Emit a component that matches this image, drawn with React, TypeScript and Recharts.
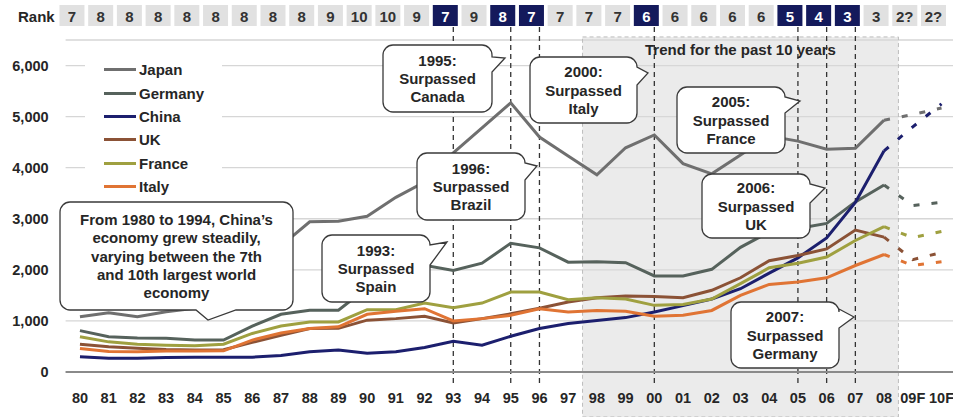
import React from 'react'
import {
  LineChart, Line, XAxis, YAxis, CartesianGrid,
  ReferenceArea, ReferenceLine, Legend,
} from 'recharts'

// categories (1980 – 2008, plus two forecast years)
const years = [
  '80', '81', '82', '83', '84', '85', '86', '87', '88', '89',
  '90', '91', '92', '93', '94', '95', '96', '97', '98', '99',
  '00', '01', '02', '03', '04', '05', '06', '07', '08', '09F', '10F',
]

// China's world rank for each year
const ranks = [
  '7', '8', '8', '8', '8', '8', '8', '8', '8', '9',
  '10', '10', '9', '7', '9', '8', '7', '7', '7', '7',
  '6', '6', '6', '6', '6', '5', '4', '3', '3', '2?', '2?',
]
// years where China overtook another economy
const milestoneYears = ['93', '95', '96', '00', '05', '06', '07']

// GDP, US$ billions, 1980 – 2008
const japan = [1080, 1160, 1080, 1180, 1250, 1360, 2030, 2470, 2940, 2950, 3050, 3420, 3720, 4290, 4780, 5270, 4600, 4230, 3860, 4390, 4640, 4080, 3880, 4250, 4620, 4520, 4360, 4380, 4930]
const germany = [810, 690, 665, 660, 625, 625, 900, 1130, 1210, 1210, 1650, 1880, 2090, 1990, 2130, 2520, 2430, 2150, 2160, 2140, 1880, 1880, 2010, 2440, 2740, 2810, 2910, 3330, 3660]
const china = [300, 270, 270, 285, 290, 290, 290, 325, 395, 430, 365, 395, 480, 600, 525, 700, 850, 950, 1010, 1065, 1175, 1300, 1430, 1630, 1935, 2235, 2625, 3320, 4330]
const uk = [545, 495, 465, 440, 430, 435, 580, 720, 850, 855, 1015, 1045, 1090, 960, 1045, 1140, 1250, 1370, 1455, 1490, 1480, 1455, 1600, 1845, 2180, 2280, 2410, 2780, 2640]
const france = [690, 590, 545, 525, 515, 545, 755, 900, 980, 980, 1220, 1220, 1350, 1260, 1350, 1565, 1565, 1415, 1455, 1430, 1305, 1320, 1430, 1730, 2040, 2130, 2250, 2575, 2845]
const italy = [460, 400, 395, 410, 410, 415, 625, 765, 850, 885, 1130, 1190, 1240, 1000, 1045, 1110, 1240, 1175, 1205, 1190, 1090, 1110, 1205, 1500, 1715, 1760, 1845, 2085, 2300]

// forecast: 08, 09F, 10F
const japanF = [4930, 5040, 5170]
const germanyF = [3660, 3260, 3320]
const chinaF = [4330, 4800, 5250]
const ukF = [2640, 2200, 2340]
const franceF = [2845, 2630, 2750]
const italyF = [2300, 2085, 2160]

const yTicks = [0, 1000, 2000, 3000, 4000, 5000, 6000]

const series = [
  { key: 'japan', name: 'Japan', color: '#6f6f6f', hist: japan, fc: japanF },
  { key: 'germany', name: 'Germany', color: '#56625c', hist: germany, fc: germanyF },
  { key: 'china', name: 'China', color: '#1c1f6e', hist: china, fc: chinaF },
  { key: 'uk', name: 'UK', color: '#8b5236', hist: uk, fc: ukF },
  { key: 'france', name: 'France', color: '#9fa040', hist: france, fc: franceF },
  { key: 'italy', name: 'Italy', color: '#e07434', hist: italy, fc: italyF },
]

const FORECAST_FROM = years.length - 3

const data = years.map((year, i) => {
  const row: Record<string, any> = { idx: i, year }
  series.forEach(s => {
    row[s.key] = i < s.hist.length ? s.hist[i] : null
    row[s.key + 'F'] = i >= FORECAST_FROM ? s.fc[i - FORECAST_FROM] : null
  })
  return row
})

const FONT = '"Liberation Sans", Arial, sans-serif'
const TEXT = '#262626'

// callout boxes (annotation layer, pixel layout)
const callouts = [
  { lines: ['1995:', 'Surpassed', 'Canada'], x: 383, y: 45, w: 109, h: 67, side: 'right', b1: 57, b2: 72, tx: 505, ty: 58 },
  { lines: ['1996:', 'Surpassed', 'Brazil'], x: 417, y: 153, w: 108, h: 67, side: 'right', b1: 163, b2: 180, tx: 537, ty: 166 },
  { lines: ['2000:', 'Surpassed', 'Italy'], x: 530, y: 57, w: 107, h: 66, side: 'right', b1: 67, b2: 85, tx: 648, ty: 73 },
  { lines: ['2005:', 'Surpassed', 'France'], x: 677, y: 87, w: 108, h: 66, side: 'right', b1: 97, b2: 113, tx: 800, ty: 101 },
  { lines: ['2006:', 'Surpassed', 'UK'], x: 702, y: 174, w: 108, h: 64, side: 'right', b1: 184, b2: 203, tx: 825, ty: 188 },
  { lines: ['2007:', 'Surpassed', 'Germany'], x: 731, y: 302, w: 108, h: 66, side: 'right', b1: 309, b2: 328, tx: 854, ty: 317 },
  { lines: ['1993:', 'Surpassed', 'Spain'], x: 322, y: 235, w: 108, h: 67, side: 'right', b1: 245, b2: 265, tx: 447, ty: 242 },
  {
    lines: ['From 1980 to 1994, China\u2019s', 'economy grew steadily,', 'varying between the 7th', 'and 10th largest world', 'economy'],
    x: 60, y: 202, w: 233, h: 108, side: 'bottom', b1: 196, b2: 236, tx: 208, ty: 320,
  },
]

function calloutPath(c: any) {
  const r = 10
  const R = c.x + c.w
  const B = c.y + c.h
  let d = `M${c.x + r},${c.y} H${R - r} A${r},${r} 0 0 1 ${R},${c.y + r}`
  if (c.side === 'right') d += ` V${c.b1} L${c.tx},${c.ty} L${R},${c.b2}`
  d += ` V${B - r} A${r},${r} 0 0 1 ${R - r},${B}`
  if (c.side === 'bottom') d += ` H${c.b2} L${c.tx},${c.ty} L${c.b1},${B}`
  d += ` H${c.x + r} A${r},${r} 0 0 1 ${c.x},${B - r} V${c.y + r} A${r},${r} 0 0 1 ${c.x + r},${c.y} Z`
  return d
}

function Callout({ c }: { c: any }) {
  const lh = 18.2
  const cy = c.y + c.h / 2 - ((c.lines.length - 1) * lh) / 2
  return (
    <g>
      <path d={calloutPath(c)} fill="#fff" stroke="#3a3a3a" strokeWidth={1.3} />
      {c.lines.map((t: string, i: number) => (
        <text key={i} x={c.x + c.w / 2} y={cy + i * lh} textAnchor="middle" dominantBaseline="central"
          fontFamily={FONT} fontWeight="bold" fontSize={15} fill={TEXT}>
          {t}
        </text>
      ))}
    </g>
  )
}

function RankTick(props: any) {
  const { x, payload } = props
  const i = payload.value
  const dark = milestoneYears.includes(years[i])
  const cx = x - 8
  return (
    <g>
      <rect x={cx - 12.5} y={5} width={25} height={21} fill={dark ? '#141a5c' : '#e1e1e1'} />
      <text x={cx} y={16} textAnchor="middle" dominantBaseline="central"
        fontFamily={FONT} fontWeight="bold" fontSize={15} fill={dark ? '#fff' : '#333'}>
        {ranks[i]}
      </text>
    </g>
  )
}

function LegendBox() {
  return (
    <div style={{ background: '#fff', padding: '2px 0 4px 19px', fontFamily: FONT }}>
      {series.map(s => (
        <div key={s.key} style={{ display: 'flex', alignItems: 'center', height: 23.4 }}>
          <span style={{ display: 'inline-block', width: 32, height: 3, background: s.color, marginRight: 3 }} />
          <span style={{ fontSize: 15, fontWeight: 'bold', color: TEXT }}>{s.name}</span>
        </div>
      ))}
    </div>
  )
}

const idxTicks = years.map((_, i) => i)

export default function App() {
  return (
    <div style={{ position: 'absolute', left: 0, top: 0, width: 953, height: 417, background: '#fff' }}>
      <LineChart width={953} height={417} data={data} margin={{ top: 10, right: 0, left: 0, bottom: 0 }}>
        <ReferenceArea
          x1={FORECAST_FROM - 10.5} x2={FORECAST_FROM + 0.5} y1={-880} y2={6560}
          ifOverflow="visible" fill="#d9d9d9" fillOpacity={0.52}
          stroke="#bdbdbd" strokeDasharray="4 3"
          label={{ value: 'Trend for the past 10 years', position: 'insideTop', offset: 7, fill: TEXT, fontSize: 15, fontWeight: 'bold', fontFamily: FONT }}
        />
        <CartesianGrid vertical={false} stroke="#d6d6d6" strokeWidth={1.3} />
        <XAxis
          dataKey="idx" type="number" domain={[-0.5, 30.4]} ticks={idxTicks} interval={0}
          tickFormatter={(v: number) => years[v]} height={45}
          tickLine={false} tickSize={0} tickMargin={21}
          axisLine={{ stroke: '#8a8a8a', strokeWidth: 2 }}
          tick={{ fill: TEXT, fontSize: 14.5, fontWeight: 'bold', fontFamily: FONT }}
        />
        <XAxis
          xAxisId="rank" orientation="top" dataKey="idx" type="number" domain={[-0.5, 30.4]}
          ticks={idxTicks} interval={0} height={30} axisLine={false} tickLine={false}
          tick={(p: any) => <RankTick {...p} />}
        />
        <YAxis
          domain={[0, 6500]} ticks={yTicks} width={65.6} axisLine={false} tickLine={false}
          tickSize={0} tickMargin={17} tickFormatter={(v: number) => v.toLocaleString('en-US')}
          tick={{ fill: TEXT, fontSize: 14.5, fontWeight: 'bold', fontFamily: FONT }}
        />
        {milestoneYears.map(y => (
          <ReferenceLine
            key={y} ifOverflow="visible" stroke="#333" strokeWidth={1.3} strokeDasharray="5 4"
            segment={[{ x: years.indexOf(y), y: -215 }, { x: years.indexOf(y), y: 6790 }]}
          />
        ))}
        <Legend
          verticalAlign="middle" align="center" layout="horizontal"
          wrapperStyle={{ position: 'absolute', left: 85, top: 56, width: 137, height: 'auto' }}
          content={() => <LegendBox />}
        />
        {series.map(s => (
          <Line
            key={s.key} dataKey={s.key} name={s.name} stroke={s.color} strokeWidth={3}
            dot={false} activeDot={false} isAnimationActive={false} connectNulls={false}
          />
        ))}
        {series.map(s => (
          <Line
            key={s.key + 'F'} dataKey={s.key + 'F'} stroke={s.color} strokeWidth={3}
            strokeDasharray="6 12" dot={false} activeDot={false} legendType="none"
            isAnimationActive={false}
          />
        ))}
      </LineChart>
      <svg width={953} height={417} style={{ position: 'absolute', left: 0, top: 0, pointerEvents: 'none' }}>
        <text x={18} y={16} dominantBaseline="central" fontFamily={FONT} fontWeight="bold" fontSize={15} fill={TEXT}>
          Rank
        </text>
        {callouts.map((c, i) => <Callout key={i} c={c} />)}
      </svg>
    </div>
  )
}
